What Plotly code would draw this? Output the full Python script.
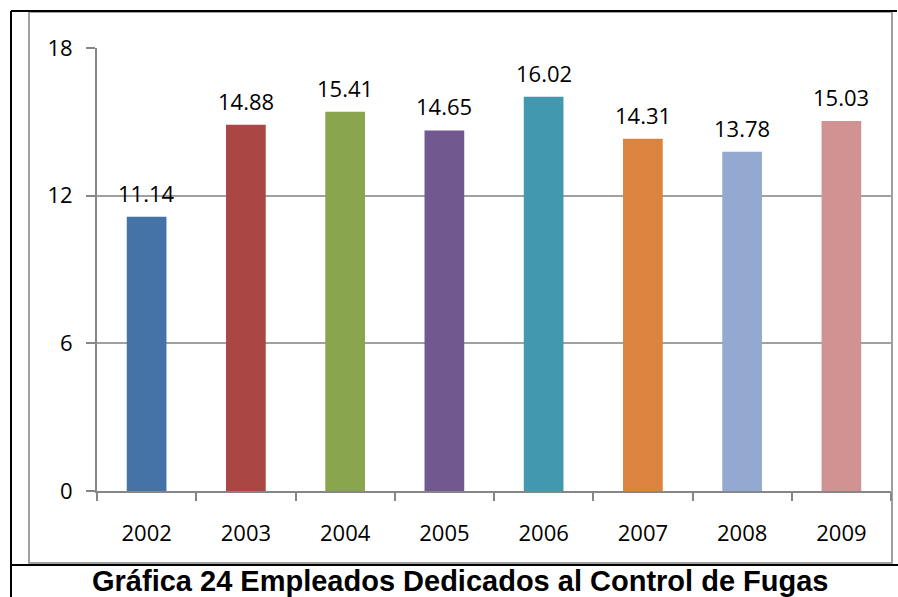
import plotly.graph_objects as go

years = ["2002", "2003", "2004", "2005", "2006", "2007", "2008", "2009"]
values = [11.14, 14.88, 15.41, 14.65, 16.02, 14.31, 13.78, 15.03]
colors = ["#4572A7", "#AA4643", "#89A54E", "#71588F", "#4198AF", "#DB843D", "#93A9CF", "#D19392"]
y_ticks = [0, 6, 12, 18]
title_text = "Gráfica 24 Empleados Dedicados al Control de Fugas"

W, H = 898, 597
L, R, T, B = 97, 7, 48, 106
PW, PH = W - L - R, H - T - B

def px(x):
    return (x - L) / PW

def py(y):
    return (H - B - y) / PH

fig = go.Figure()
fig.add_trace(go.Bar(
    x=years, y=values, marker=dict(color=colors, line=dict(width=0)),
    width=0.4, hoverinfo="skip",
))

for i, v in enumerate(values):
    fig.add_annotation(x=i, y=v, xref="x", yref="y", text=f"{v:.2f}", showarrow=False,
                       yanchor="bottom", yshift=7,
                       font=dict(family="Open Sans", size=22, color="#000000"))

shapes = []
shapes.append(dict(type="rect", xref="paper", yref="paper",
                   x0=px(29), x1=px(892), y0=py(563), y1=py(12),
                   line=dict(color="#A0A0A0", width=2), fillcolor="rgba(0,0,0,0)", layer="below"))
for (x0, y0, x1, y1) in [(11, 11, 897, 11), (11, 11, 11, 597), (11, 565, 898, 565)]:
    shapes.append(dict(type="line", xref="paper", yref="paper",
                       x0=px(x0), x1=px(x1), y0=py(y0), y1=py(y1),
                       line=dict(color="#000000", width=2)))

fig.add_annotation(xref="paper", yref="paper", x=px(460), y=py(581),
                   text=f"<b>{title_text}</b>", showarrow=False,
                   xanchor="center", yanchor="middle",
                   font=dict(family="Liberation Sans", size=29, color="#000000"))

fig.update_layout(
    width=W, height=H,
    margin=dict(l=L, r=R, t=T, b=B, pad=0),
    paper_bgcolor="white", plot_bgcolor="white",
    showlegend=False,
    shapes=shapes,
    xaxis=dict(
        type="category", showgrid=False, showline=True, linecolor="#868686", linewidth=2,
        ticks="outside", tickson="boundaries", ticklen=8, tickcolor="#868686", tickwidth=2,
        tickfont=dict(family="Open Sans", size=22, color="#000000"),
        ticklabelstandoff=22, range=[-0.5, 7.5],
    ),
    yaxis=dict(
        range=[0, 18], tickvals=y_ticks, showgrid=True, gridcolor="#A0A0A0", gridwidth=2,
        showline=True, linecolor="#868686", linewidth=2, zeroline=False,
        ticks="outside", ticklen=9, tickcolor="#868686", tickwidth=2,
        tickfont=dict(family="Open Sans", size=22, color="#000000"),
        ticklabelstandoff=9,
    ),
)

fig.write_html("out.html", config={"displayModeBar": False},
               post_script="document.body.style.margin='0';document.body.style.overflow='hidden';")
